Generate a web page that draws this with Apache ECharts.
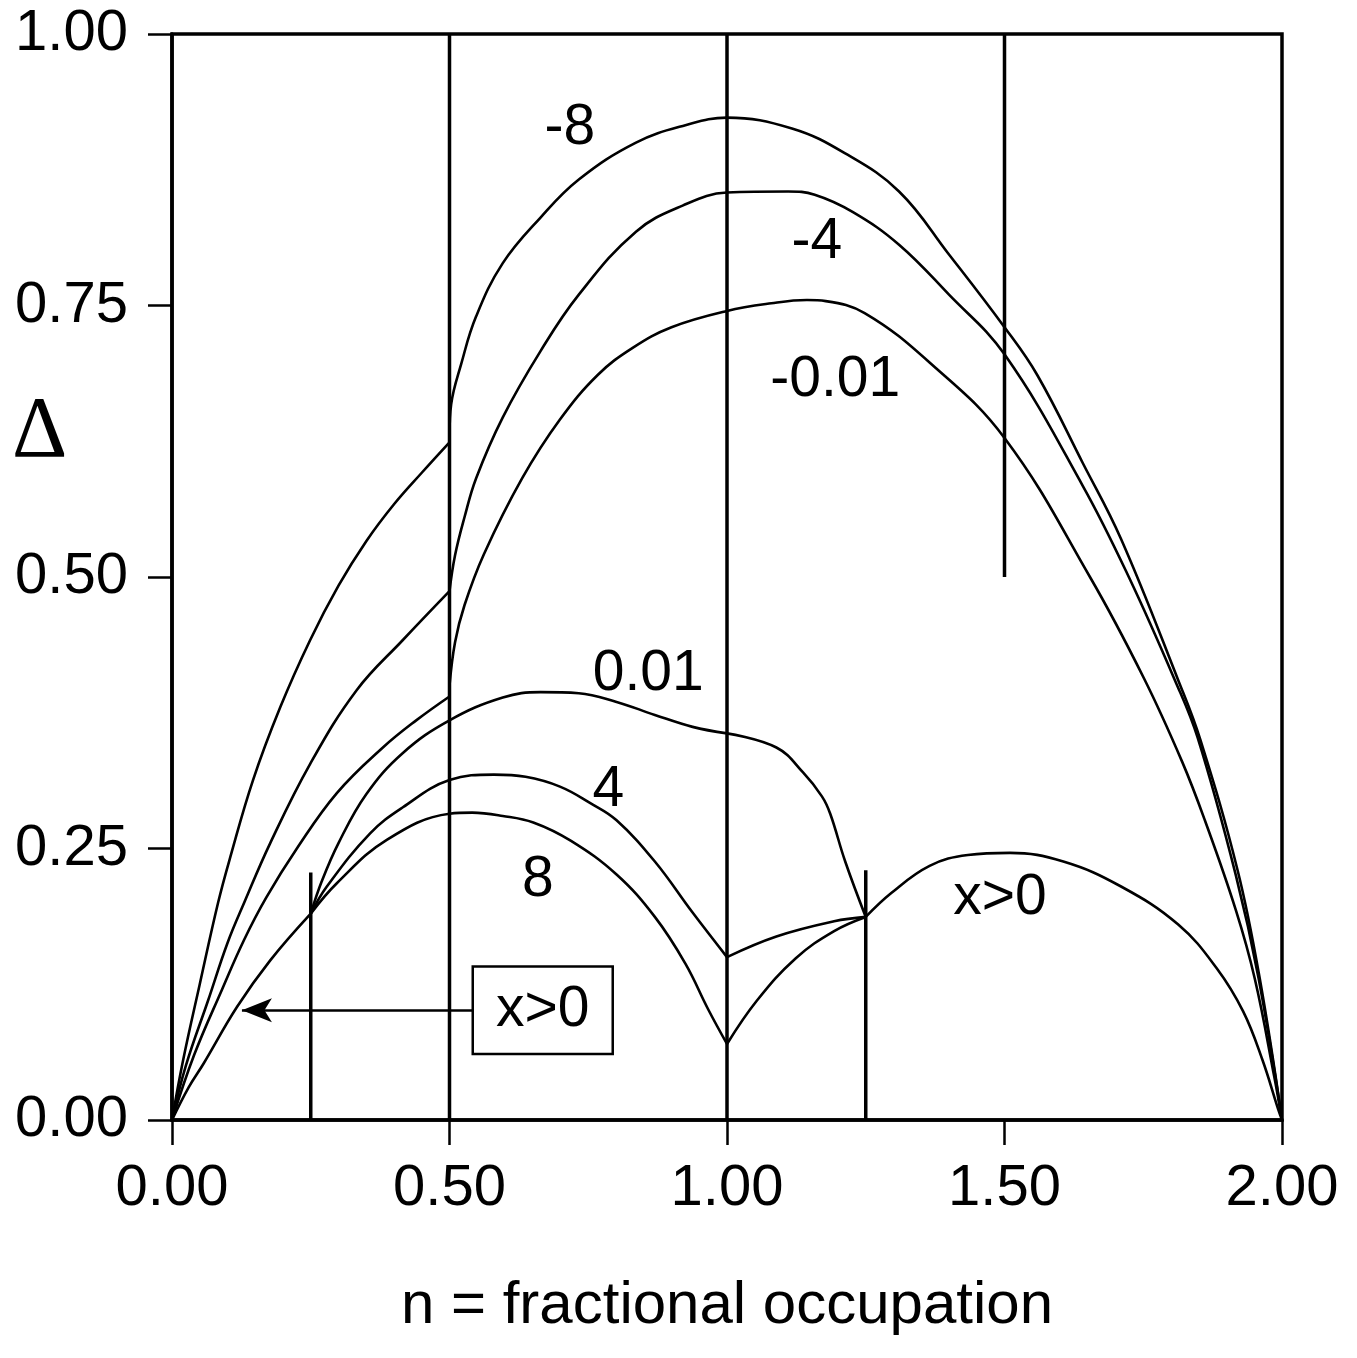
<!DOCTYPE html>
<html>
<head>
<meta charset="utf-8">
<script src="https://cdn.jsdelivr.net/npm/echarts@6/dist/echarts.min.js"></script>
<style>
  html, body { margin: 0; padding: 0; background: #fff; }
  #chart { width: 1357px; height: 1358px; }
</style>
</head>
<body>
<div id="chart"></div>
<script>
  // tick labels
  const xTicks = [0, 0.5, 1.0, 1.5, 2.0];
  const yTicks = [0, 0.25, 0.5, 0.75, 1.0];

  // x < 0 branches (label = x value)
  const m8Left = [[0,0],[0.02,0.055],[0.05,0.125],[0.083,0.2],[0.105,0.242],[0.146,0.313],[0.195,0.38],[0.249,0.442],[0.3,0.492],[0.35,0.533],[0.4,0.567],[0.45,0.596],[0.5,0.624]];
  const m8Right = [[0.5,0.63],[0.503,0.659],[0.521,0.696],[0.548,0.74],[0.596,0.789],[0.664,0.831],[0.733,0.866],[0.836,0.9],[0.925,0.916],[1.0,0.923],[1.117,0.913],[1.213,0.89],[1.31,0.855],[1.4,0.797],[1.5,0.73],[1.559,0.686],[1.641,0.605],[1.71,0.535],[1.813,0.405],[1.853,0.35],[1.92,0.23],[1.96,0.13],[2,0]];
  const m4Left = [[0,0],[0.025,0.05],[0.065,0.11],[0.1,0.163],[0.13,0.2],[0.177,0.255],[0.249,0.328],[0.333,0.396],[0.416,0.442],[0.5,0.487]];
  const m4Right = [[0.5,0.487],[0.51,0.52],[0.527,0.555],[0.548,0.591],[0.596,0.647],[0.664,0.708],[0.733,0.76],[0.836,0.818],[0.92,0.842],[1.0,0.854],[1.11,0.855],[1.158,0.852],[1.227,0.836],[1.31,0.806],[1.4,0.76],[1.5,0.705],[1.641,0.584],[1.724,0.5],[1.807,0.405],[1.848,0.352],[1.917,0.225],[1.958,0.13],[2,0]];
  const m001Left = [[0,0],[0.04,0.06],[0.09,0.12],[0.13,0.166],[0.17,0.205],[0.225,0.25],[0.297,0.301],[0.38,0.343],[0.44,0.368],[0.5,0.39]];
  const m001Right = [[0.5,0.4],[0.51,0.44],[0.527,0.474],[0.562,0.521],[0.631,0.591],[0.699,0.645],[0.767,0.686],[0.83,0.711],[0.9,0.73],[1.0,0.745],[1.08,0.752],[1.144,0.755],[1.178,0.754],[1.248,0.743],[1.366,0.697],[1.5,0.628],[1.654,0.5],[1.751,0.407],[1.82,0.33],[1.861,0.276],[1.917,0.193],[1.951,0.13],[1.986,0.04],[2,0]];

  // x > 0 branches
  const posLeft = [[0,0],[0.03,0.03],[0.057,0.052],[0.117,0.104],[0.177,0.147],[0.25,0.19]];
  const p001Mid = [[0.25,0.19],[0.27,0.22],[0.3,0.255],[0.35,0.3],[0.416,0.338],[0.5,0.368],[0.596,0.389],[0.664,0.394],[0.733,0.393],[0.801,0.385],[0.87,0.373],[0.938,0.362],[1.0,0.356]];
  const p001Right = [[1.0,0.356],[1.089,0.343],[1.137,0.32],[1.171,0.298],[1.186,0.282],[1.213,0.238],[1.25,0.187]];
  const p4Mid = [[0.25,0.19],[0.279,0.215],[0.357,0.264],[0.416,0.288],[0.5,0.313],[0.58,0.318],[0.637,0.316],[0.699,0.307],[0.753,0.292],[0.801,0.276],[0.87,0.238],[0.938,0.191],[1.0,0.15]];
  const p4Right = [[1.0,0.15],[1.089,0.169],[1.193,0.183],[1.25,0.187]];
  const p8Mid = [[0.25,0.19],[0.297,0.218],[0.387,0.258],[0.5,0.282],[0.541,0.283],[0.596,0.28],[0.651,0.274],[0.719,0.257],[0.801,0.226],[0.87,0.187],[0.925,0.144],[0.966,0.102],[1.0,0.07]];
  const p8Right = [[1.0,0.07],[1.054,0.11],[1.124,0.149],[1.193,0.174],[1.25,0.187]];
  const posRight = [[1.25,0.187],[1.296,0.209],[1.365,0.234],[1.434,0.244],[1.51,0.246],[1.606,0.238],[1.71,0.215],[1.813,0.18],[1.882,0.14],[1.93,0.1],[1.965,0.055],[1.993,0.01],[2,0]];

  // vertical boundary lines: [n, from, to]
  const dividers = [[0.25,0,0.228],[0.5,0,1],[1.0,0,1],[1.25,0,0.23],[1.5,0.5,1]];

  // curve labels: [text, n, delta]
  const curveLabels = [['-8',0.717,0.913],['-4',1.162,0.808],['-0.01',1.195,0.681],['0.01',0.858,0.41],['4',0.786,0.304],['8',0.659,0.221],['x>0',1.492,0.204]];
  const boxLabel = ['x>0',0.668,0.101];
  const arrowFrom = [0.542,0.101];
  const arrowTo = [0.126,0.101];

  const font = 'Liberation Sans, Arial, Helvetica, sans-serif';
  const chart = echarts.init(document.getElementById('chart'));

  const curves = [m8Left,m8Right,m4Left,m4Right,m001Left,m001Right,posLeft,p001Mid,p001Right,p4Mid,p4Right,p8Mid,p8Right,posRight];
  const series = [];
  curves.forEach(d => {
    series.push({
      type: 'line', data: d, smooth: 0.4, showSymbol: false, silent: true,
      lineStyle: { color: '#000', width: 2.6 }
    });
  });
  dividers.forEach(d => {
    series.push({
      type: 'line', data: [[d[0], d[1]], [d[0], d[2]]], showSymbol: false, silent: true,
      lineStyle: { color: '#000', width: 3.5 }
    });
  });
  series.push({
    type: 'scatter', symbolSize: 0, silent: true,
    itemStyle: { opacity: 1, color: '#000' },
    data: curveLabels.map(l => ({ value: [l[1], l[2]], name: l[0] })),
    label: { show: true, position: 'inside', formatter: p => p.name, color: '#000', fontSize: 57, fontFamily: font }
  });
  series.push({
    type: 'scatter', symbolSize: 0, silent: true,
    itemStyle: { opacity: 1, color: '#000' },
    data: [{ value: [boxLabel[1], boxLabel[2]], name: boxLabel[0] }],
    label: {
      show: true, position: 'inside', formatter: p => p.name, color: '#000', fontSize: 57, fontFamily: font,
      borderColor: '#000', borderWidth: 2.5, padding: [14, 22, 14, 22], backgroundColor: '#fff'
    },
    markLine: {
      silent: true, symbol: ['none', 'arrow'], symbolSize: [18, 30],
      lineStyle: { color: '#000', width: 2.5, type: 'solid', opacity: 1 },
      itemStyle: { color: '#000' },
      label: { show: false },
      data: [[{ coord: arrowFrom }, { coord: arrowTo }]]
    }
  });

  chart.setOption({
    animation: false,
    backgroundColor: '#fff',
    grid: { left: 172, right: 75, top: 34, bottom: 238, show: true, borderColor: '#000', borderWidth: 3.5 },
    xAxis: {
      type: 'value', min: 0, max: 2, interval: 0.5,
      name: 'n = fractional occupation', nameLocation: 'middle', nameGap: 156,
      nameTextStyle: { color: '#000', fontSize: 60, fontFamily: font },
      axisLine: { lineStyle: { color: '#000', width: 3.5 } },
      axisTick: { show: true, inside: false, length: 25, lineStyle: { color: '#000', width: 2.5 } },
      axisLabel: { margin: 40, color: '#000', fontSize: 58, fontFamily: font, formatter: v => v.toFixed(2) },
      splitLine: { show: false }
    },
    yAxis: {
      type: 'value', min: 0, max: 1, interval: 0.25,
      axisLine: { show: true, lineStyle: { color: '#000', width: 3.5 } },
      axisTick: { show: true, inside: false, length: 24, lineStyle: { color: '#000', width: 2.5 } },
      axisLabel: { margin: 44, color: '#000', fontSize: 58, fontFamily: font, formatter: v => v.toFixed(2) },
      splitLine: { show: false }
    },
    graphic: [{
      type: 'text', left: 12, top: 390,
      style: { text: 'Δ', fill: '#000', fontSize: 86, fontFamily: 'Liberation Serif' }
    }],
    series: series
  });
</script>
</body>
</html>
